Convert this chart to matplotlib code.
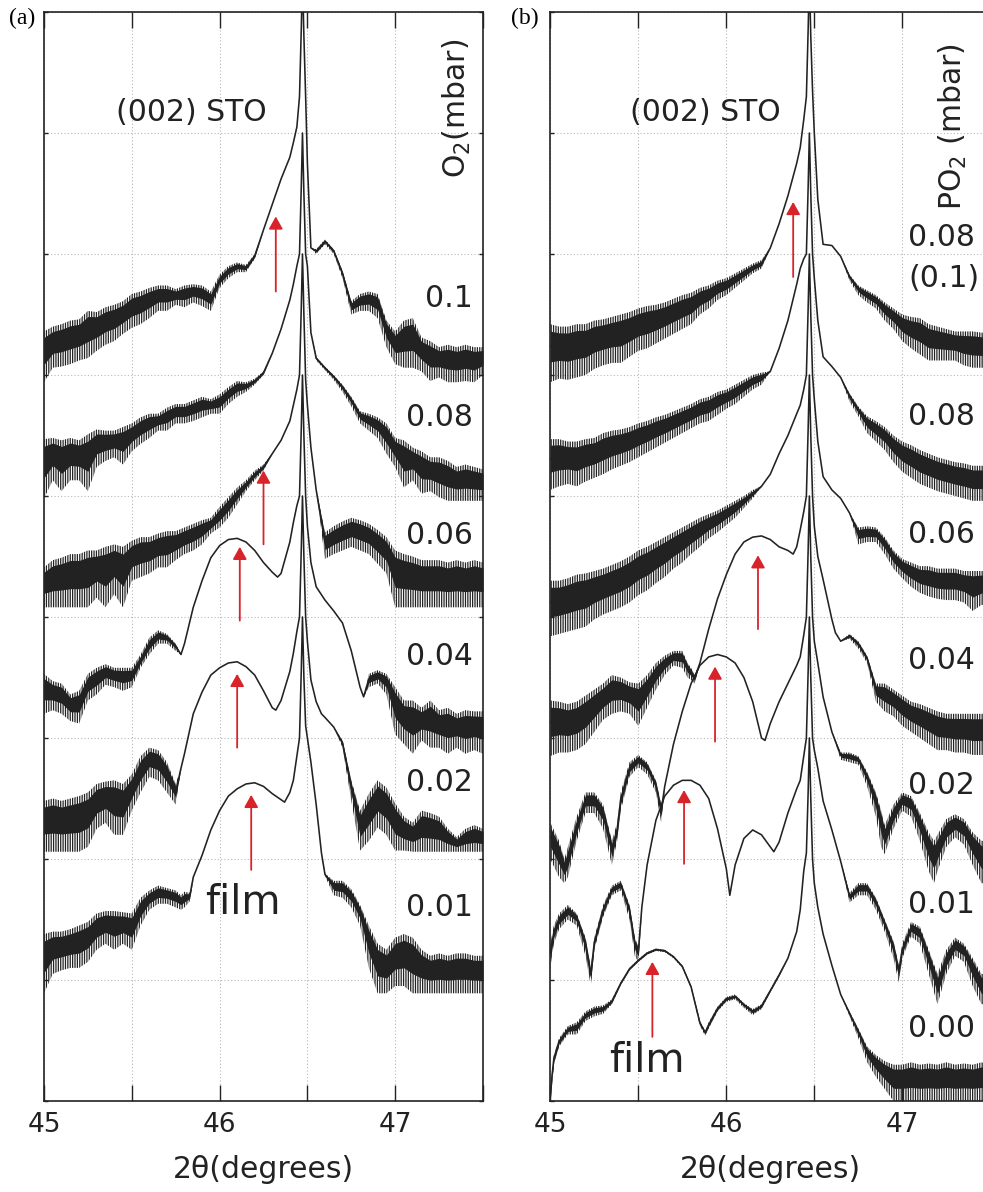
import numpy as np
import matplotlib
matplotlib.use("Agg")
import matplotlib.pyplot as plt

plt.rcParams['font.family'] = ['DejaVu Sans']
plt.rcParams['mathtext.fontset'] = 'dejavusans'
plt.rcParams['hatch.linewidth'] = 0.9

# ---------------- data (2theta in degrees, offset log-intensity in grid units) -------------
XG = [45.00, 45.05, 45.10, 45.15, 45.20, 45.25, 45.30, 45.35, 45.40, 45.45,
      45.50, 45.55, 45.60, 45.65, 45.70, 45.75, 45.80, 45.85, 45.90, 45.95,
      46.00, 46.05, 46.10, 46.15, 46.20, 46.25, 46.30, 46.35,
      46.40, 46.42, 46.44, 46.455, 46.465, 46.472, 46.48, 46.49, 46.50, 46.52,
      46.55, 46.60, 46.65, 46.70, 46.75, 46.80, 46.85, 46.90, 46.95, 47.00,
      47.05, 47.10, 47.15, 47.20, 47.25, 47.30, 47.35, 47.40, 47.45, 47.50]

# ---- panel (a): O2 pressure series ----
A010_hi = [6.36, 6.40, 6.42, 6.45, 6.46, 6.53, 6.52, 6.56, 6.58, 6.61,
           6.67, 6.69, 6.72, 6.74, 6.74, 6.71, 6.74, 6.75, 6.74, 6.69,
           6.83, 6.90, 6.93, 6.91, 7.00, 7.20, 7.41, 7.62,
           7.80, 7.92, 8.05, 8.30, 8.85, 9.30, 8.80, 8.30, 7.75, 7.05,
           7.04, 7.12, 7.04, 6.86, 6.61, 6.67, 6.69, 6.67, 6.45, 6.36,
           6.45, 6.47, 6.31, 6.28, 6.23, 6.25, 6.23, 6.25, 6.23, 6.23]
A010_lo = [5.94, 6.06, 6.07, 6.09, 6.12, 6.14, 6.20, 6.25, 6.28, 6.34,
           6.39, 6.42, 6.47, 6.53, 6.53, 6.58, 6.56, 6.60, 6.57, 6.53,
           6.72, 6.80, 6.85, 6.85, 6.96, 7.20, 7.41, 7.62,
           7.80, 7.92, 8.05, 8.30, 8.85, 9.30, 8.80, 8.30, 7.75, 7.05,
           7.00, 7.08, 7.00, 6.80, 6.50, 6.53, 6.53, 6.47, 6.23, 6.09,
           6.06, 6.06, 6.03, 5.95, 5.98, 5.94, 5.94, 5.95, 5.94, 6.00]

A008_hi = [5.47, 5.48, 5.46, 5.48, 5.46, 5.51, 5.55, 5.54, 5.54, 5.57,
           5.60, 5.65, 5.68, 5.68, 5.73, 5.76, 5.76, 5.79, 5.82, 5.80,
           5.84, 5.90, 5.95, 5.94, 5.97, 6.03, 6.18, 6.38,
           6.62, 6.75, 6.90, 7.00, 7.55, 8.00, 7.50, 7.00, 6.90, 6.35,
           6.15, 6.07, 6.00, 5.92, 5.82, 5.70, 5.68, 5.65, 5.60, 5.48,
           5.46, 5.40, 5.37, 5.32, 5.32, 5.29, 5.24, 5.26, 5.24, 5.22]
A008_lo = [4.98, 5.13, 5.04, 5.13, 5.13, 5.04, 5.24, 5.29, 5.32, 5.26,
           5.37, 5.43, 5.48, 5.54, 5.54, 5.60, 5.60, 5.62, 5.65, 5.68,
           5.68, 5.76, 5.82, 5.86, 5.92, 6.00, 6.18, 6.38,
           6.62, 6.75, 6.90, 7.00, 7.55, 8.00, 7.50, 7.00, 6.90, 6.35,
           6.12, 6.04, 5.96, 5.86, 5.74, 5.60, 5.54, 5.48, 5.35, 5.24,
           5.07, 5.13, 5.02, 5.04, 4.99, 4.96, 4.96, 4.96, 4.96, 4.96]

A006_hi = [4.41, 4.47, 4.49, 4.52, 4.52, 4.55, 4.55, 4.58, 4.60, 4.58,
           4.63, 4.66, 4.66, 4.69, 4.71, 4.71, 4.74, 4.77, 4.80, 4.82,
           4.91, 4.99, 5.07, 5.13, 5.21, 5.26, 5.35, 5.46,
           5.62, 5.75, 5.88, 6.00, 6.55, 7.00, 6.50, 5.96, 5.75, 5.40,
           5.05, 4.70, 4.75, 4.79, 4.82, 4.80, 4.77, 4.72, 4.66, 4.55,
           4.52, 4.50, 4.47, 4.47, 4.47, 4.45, 4.47, 4.45, 4.47, 4.45]
A006_lo = [4.08, 4.08, 4.08, 4.08, 4.08, 4.08, 4.16, 4.08, 4.19, 4.08,
           4.30, 4.33, 4.36, 4.41, 4.41, 4.47, 4.52, 4.55, 4.60, 4.69,
           4.74, 4.82, 4.93, 5.04, 5.13, 5.21, 5.35, 5.46,
           5.62, 5.75, 5.88, 6.00, 6.55, 7.00, 6.50, 5.96, 5.75, 5.40,
           5.05, 4.48, 4.52, 4.55, 4.58, 4.55, 4.52, 4.44, 4.36, 4.08,
           4.08, 4.08, 4.08, 4.08, 4.08, 4.08, 4.08, 4.08, 4.08, 4.08]

A004_x = [45.00, 45.05, 45.10, 45.15, 45.20, 45.25, 45.30, 45.35, 45.40, 45.45,
          45.50, 45.55, 45.60, 45.65, 45.70, 45.75, 45.78, 45.80, 45.85, 45.90,
          45.95, 46.00, 46.05, 46.10, 46.15, 46.20, 46.25, 46.30, 46.33, 46.35,
          46.40, 46.42, 46.44, 46.455, 46.465, 46.472, 46.48, 46.49, 46.50, 46.52,
          46.55, 46.60, 46.65, 46.70, 46.75, 46.80, 46.82, 46.85, 46.90, 46.95,
          47.00, 47.05, 47.10, 47.15, 47.20, 47.25, 47.30, 47.35, 47.40, 47.45,
          47.50]
A004_hi = [3.53, 3.47, 3.45, 3.36, 3.39, 3.53, 3.58, 3.61, 3.58, 3.58,
           3.58, 3.69, 3.83, 3.89, 3.86, 3.78, 3.69, 3.78, 4.08, 4.30,
           4.49, 4.59, 4.64, 4.65, 4.62, 4.55, 4.45, 4.37, 4.33, 4.36,
           4.62, 4.78, 4.92, 5.00, 5.55, 6.00, 5.50, 5.00, 4.75, 4.45,
           4.25, 4.14, 4.05, 3.95, 3.72, 3.42, 3.34, 3.53, 3.56, 3.53,
           3.42, 3.31, 3.31, 3.25, 3.31, 3.23, 3.25, 3.20, 3.23, 3.22,
           3.22]
A004_lo = [3.20, 3.23, 3.20, 3.14, 3.12, 3.31, 3.36, 3.44, 3.42, 3.39,
           3.42, 3.58, 3.69, 3.78, 3.78, 3.72, 3.69, 3.78, 4.08, 4.30,
           4.49, 4.59, 4.64, 4.65, 4.62, 4.55, 4.45, 4.37, 4.33, 4.36,
           4.62, 4.78, 4.92, 5.00, 5.55, 6.00, 5.50, 5.00, 4.75, 4.45,
           4.25, 4.14, 4.05, 3.95, 3.72, 3.42, 3.34, 3.42, 3.45, 3.36,
           3.03, 2.95, 2.87, 2.98, 2.92, 2.92, 2.87, 2.92, 2.87, 2.90,
           2.87]

A002_x = [45.00, 45.05, 45.10, 45.15, 45.20, 45.25, 45.30, 45.35, 45.40, 45.45,
          45.50, 45.55, 45.60, 45.65, 45.70, 45.75, 45.78, 45.80, 45.85, 45.90,
          45.95, 46.00, 46.05, 46.10, 46.15, 46.20, 46.25, 46.30, 46.32, 46.35,
          46.40, 46.42, 46.44, 46.455, 46.465, 46.472, 46.48, 46.49, 46.50, 46.52,
          46.55, 46.58, 46.60, 46.65, 46.70, 46.75, 46.80, 46.85, 46.90, 46.95,
          47.00, 47.05, 47.10, 47.15, 47.20, 47.25, 47.30, 47.35, 47.40, 47.45,
          47.50]
A002_hi = [2.48, 2.50, 2.48, 2.50, 2.52, 2.55, 2.62, 2.64, 2.65, 2.62,
           2.70, 2.85, 2.92, 2.90, 2.80, 2.62, 2.75, 2.87, 3.20, 3.38,
           3.52, 3.58, 3.62, 3.63, 3.59, 3.52, 3.39, 3.25, 3.23, 3.31,
           3.55, 3.70, 3.88, 4.00, 4.55, 5.00, 4.50, 4.00, 3.80, 3.48,
           3.30, 3.20, 3.17, 3.09, 2.98, 2.65, 2.40, 2.54, 2.65, 2.59,
           2.46, 2.35, 2.30, 2.40, 2.38, 2.35, 2.25, 2.18, 2.25, 2.28,
           2.25]
A002_lo = [2.06, 2.06, 2.06, 2.06, 2.06, 2.10, 2.25, 2.30, 2.20, 2.20,
           2.40, 2.55, 2.68, 2.65, 2.55, 2.45, 2.75, 2.87, 3.20, 3.38,
           3.52, 3.58, 3.62, 3.63, 3.59, 3.52, 3.39, 3.25, 3.23, 3.31,
           3.55, 3.70, 3.88, 4.00, 4.55, 5.00, 4.50, 4.00, 3.80, 3.48,
           3.30, 3.20, 3.17, 3.09, 2.92, 2.48, 2.07, 2.15, 2.26, 2.20,
           2.07, 2.07, 2.06, 2.06, 2.06, 2.06, 2.06, 2.06, 2.06, 2.06,
           2.06]

A001_x = [45.00, 45.05, 45.10, 45.15, 45.20, 45.25, 45.30, 45.35, 45.40, 45.45,
          45.50, 45.55, 45.60, 45.65, 45.70, 45.75, 45.78, 45.80, 45.83, 45.85,
          45.90, 45.95, 46.00, 46.05, 46.10, 46.15, 46.20, 46.25, 46.30, 46.35,
          46.37, 46.40, 46.42, 46.44, 46.455, 46.465, 46.472, 46.48, 46.49, 46.50,
          46.52, 46.55, 46.58, 46.60, 46.65, 46.70, 46.75, 46.80, 46.85, 46.90,
          46.95, 47.00, 47.05, 47.10, 47.15, 47.20, 47.25, 47.30, 47.35, 47.40,
          47.45, 47.50]
A001_hi = [1.38, 1.40, 1.40, 1.42, 1.45, 1.48, 1.55, 1.57, 1.57, 1.56,
           1.55, 1.68, 1.74, 1.78, 1.76, 1.74, 1.70, 1.73, 1.72, 1.85,
           2.03, 2.24, 2.40, 2.52, 2.58, 2.62, 2.63, 2.60, 2.54, 2.49,
           2.47, 2.55, 2.65, 2.85, 3.00, 3.55, 4.00, 3.50, 3.10, 3.00,
           2.80, 2.45, 2.05, 1.88, 1.82, 1.82, 1.75, 1.62, 1.45, 1.30,
           1.25, 1.35, 1.38, 1.35, 1.25, 1.20, 1.22, 1.20, 1.22, 1.22,
           1.20, 1.20]
A001_lo = [0.89, 1.05, 1.08, 1.10, 1.10, 1.15, 1.25, 1.30, 1.25, 1.30,
           1.25, 1.45, 1.58, 1.63, 1.63, 1.60, 1.58, 1.60, 1.65, 1.85,
           2.03, 2.24, 2.40, 2.52, 2.58, 2.62, 2.63, 2.60, 2.54, 2.49,
           2.47, 2.55, 2.65, 2.85, 3.00, 3.55, 4.00, 3.50, 3.10, 3.00,
           2.80, 2.45, 2.05, 1.86, 1.70, 1.68, 1.60, 1.45, 1.10, 0.89,
           0.89, 0.95, 0.95, 0.89, 0.89, 0.89, 0.89, 0.89, 0.89, 0.89,
           0.89, 0.89]

# ---- panel (b): PO2 series ----
B010_hi = [6.42, 6.40, 6.40, 6.42, 6.42, 6.45, 6.46, 6.48, 6.50, 6.52,
           6.55, 6.57, 6.58, 6.60, 6.63, 6.66, 6.68, 6.72, 6.74, 6.78,
           6.80, 6.84, 6.88, 6.92, 6.95, 7.05, 7.25, 7.48,
           7.75, 7.88, 8.11, 8.30, 8.85, 9.30, 8.80, 8.35, 8.00, 7.45,
           7.08, 7.07, 6.98, 6.83, 6.74, 6.70, 6.66, 6.60, 6.55, 6.50,
           6.48, 6.47, 6.42, 6.40, 6.38, 6.36, 6.36, 6.36, 6.35, 6.35]
B010_lo = [5.94, 5.97, 5.96, 5.98, 6.00, 6.05, 6.08, 6.10, 6.10, 6.15,
           6.20, 6.22, 6.26, 6.30, 6.34, 6.38, 6.42, 6.50, 6.55, 6.62,
           6.66, 6.72, 6.78, 6.84, 6.88, 7.05, 7.25, 7.48,
           7.75, 7.88, 8.11, 8.30, 8.85, 9.30, 8.80, 8.35, 8.00, 7.45,
           7.08, 7.07, 6.98, 6.78, 6.66, 6.60, 6.55, 6.45, 6.38, 6.28,
           6.22, 6.17, 6.12, 6.12, 6.12, 6.12, 6.08, 6.06, 6.06, 6.06]

B008_hi = [5.47, 5.47, 5.45, 5.45, 5.47, 5.48, 5.52, 5.54, 5.55, 5.57,
           5.60, 5.62, 5.65, 5.67, 5.70, 5.73, 5.76, 5.80, 5.82, 5.86,
           5.88, 5.92, 5.96, 6.00, 6.02, 6.03, 6.22, 6.45,
           6.75, 6.88, 6.96, 7.00, 7.55, 8.00, 7.50, 7.00, 6.80, 6.45,
           6.15, 6.07, 5.98, 5.85, 5.74, 5.66, 5.62, 5.57, 5.50, 5.45,
           5.42, 5.38, 5.35, 5.32, 5.30, 5.28, 5.27, 5.25, 5.25, 5.25]
B008_lo = [5.05, 5.08, 5.10, 5.08, 5.12, 5.15, 5.18, 5.22, 5.25, 5.28,
           5.32, 5.36, 5.40, 5.44, 5.48, 5.52, 5.56, 5.60, 5.62, 5.67,
           5.72, 5.76, 5.82, 5.88, 5.92, 6.03, 6.22, 6.45,
           6.75, 6.88, 6.96, 7.00, 7.55, 8.00, 7.50, 7.00, 6.80, 6.45,
           6.15, 6.07, 5.98, 5.78, 5.66, 5.52, 5.45, 5.38, 5.28, 5.20,
           5.15, 5.10, 5.07, 5.04, 5.02, 5.00, 4.98, 4.96, 4.96, 4.96]

B006_hi = [4.30, 4.30, 4.32, 4.35, 4.36, 4.38, 4.40, 4.43, 4.46, 4.50,
           4.55, 4.58, 4.62, 4.66, 4.70, 4.74, 4.78, 4.82, 4.85, 4.88,
           4.92, 4.96, 5.00, 5.05, 5.08, 5.18, 5.35, 5.50,
           5.68, 5.75, 5.88, 6.00, 6.55, 7.00, 6.50, 6.00, 5.80, 5.45,
           5.16, 5.05, 4.98, 4.86, 4.74, 4.75, 4.74, 4.66, 4.55, 4.48,
           4.45, 4.42, 4.42, 4.40, 4.40, 4.40, 4.38, 4.38, 4.38, 4.38]
B006_lo = [3.84, 3.86, 3.88, 3.90, 3.92, 3.98, 4.02, 4.05, 4.08, 4.12,
           4.18, 4.22, 4.28, 4.33, 4.40, 4.45, 4.52, 4.58, 4.65, 4.70,
           4.76, 4.82, 4.90, 4.98, 5.08, 5.18, 5.35, 5.50,
           5.68, 5.75, 5.88, 6.00, 6.55, 7.00, 6.50, 6.00, 5.80, 5.45,
           5.16, 5.05, 4.98, 4.86, 4.60, 4.62, 4.62, 4.52, 4.40, 4.32,
           4.25, 4.20, 4.17, 4.15, 4.14, 4.14, 4.12, 4.05, 4.10, 4.10]

B004_x = [45.00, 45.05, 45.10, 45.15, 45.20, 45.25, 45.30, 45.35, 45.40, 45.45,
          45.50, 45.55, 45.60, 45.65, 45.70, 45.75, 45.78, 45.80, 45.82, 45.85,
          45.90, 45.95, 46.00, 46.05, 46.10, 46.15, 46.20, 46.25, 46.30, 46.35,
          46.38, 46.40, 46.42, 46.44, 46.455, 46.465, 46.472, 46.48, 46.49, 46.50,
          46.52, 46.55, 46.60, 46.62, 46.65, 46.70, 46.75, 46.80, 46.85, 46.90,
          46.95, 47.00, 47.05, 47.10, 47.15, 47.20, 47.25, 47.30, 47.35, 47.40,
          47.45, 47.50]
B004_hi = [3.31, 3.30, 3.28, 3.30, 3.35, 3.40, 3.45, 3.52, 3.50, 3.46,
           3.45, 3.52, 3.62, 3.68, 3.72, 3.72, 3.62, 3.58, 3.52, 3.62,
           3.90, 4.15, 4.35, 4.52, 4.62, 4.66, 4.67, 4.64, 4.58, 4.55,
           4.52, 4.58, 4.72, 4.87, 5.00, 5.55, 6.00, 5.50, 5.00, 4.75,
           4.50, 4.31, 3.98, 3.87, 3.80, 3.86, 3.80, 3.68, 3.45, 3.45,
           3.40, 3.35, 3.30, 3.28, 3.25, 3.22, 3.20, 3.20, 3.20, 3.20,
           3.20, 3.20]
B004_lo = [2.85, 2.88, 2.88, 2.90, 2.95, 3.05, 3.15, 3.20, 3.22, 3.20,
           3.10, 3.25, 3.40, 3.52, 3.60, 3.58, 3.50, 3.48, 3.45, 3.62,
           3.90, 4.15, 4.35, 4.52, 4.62, 4.66, 4.67, 4.64, 4.58, 4.55,
           4.52, 4.58, 4.72, 4.87, 5.00, 5.55, 6.00, 5.50, 5.00, 4.75,
           4.50, 4.31, 3.98, 3.87, 3.80, 3.82, 3.74, 3.62, 3.30, 3.22,
           3.18, 3.10, 3.05, 3.00, 2.95, 2.90, 2.90, 2.88, 2.88, 2.86,
           2.86, 2.86]

B002_x = [45.00, 45.05, 45.08, 45.10, 45.15, 45.20, 45.25, 45.30, 45.35, 45.38,
          45.40, 45.45, 45.50, 45.55, 45.60, 45.63, 45.65, 45.70, 45.75, 45.80,
          45.85, 45.90, 45.95, 46.00, 46.05, 46.10, 46.15, 46.20, 46.22, 46.25,
          46.30, 46.35, 46.40, 46.42, 46.44, 46.455, 46.465, 46.472, 46.48, 46.49,
          46.50, 46.52, 46.55, 46.60, 46.65, 46.70, 46.75, 46.80, 46.85, 46.88,
          46.90, 46.95, 47.00, 47.05, 47.10, 47.15, 47.18, 47.20, 47.25, 47.30,
          47.35, 47.40, 47.45, 47.50]
B002_hi = [2.30, 2.15, 2.00, 2.10, 2.35, 2.55, 2.55, 2.45, 2.15, 2.30,
           2.55, 2.80, 2.86, 2.80, 2.65, 2.45, 2.60, 2.95, 3.22, 3.45,
           3.60, 3.67, 3.69, 3.67, 3.62, 3.50, 3.30, 3.00, 2.98, 3.12,
           3.30, 3.45, 3.60, 3.67, 3.85, 4.00, 4.55, 5.00, 4.50, 4.00,
           3.80, 3.62, 3.34, 3.05, 2.88, 2.88, 2.85, 2.72, 2.55, 2.40,
           2.28, 2.45, 2.55, 2.52, 2.38, 2.22, 2.15, 2.20, 2.33, 2.37,
           2.33, 2.22, 2.15, 2.15]
B002_lo = [2.00, 1.85, 1.80, 1.85, 2.15, 2.38, 2.38, 2.25, 1.95, 2.15,
           2.40, 2.68, 2.76, 2.70, 2.55, 2.30, 2.60, 2.95, 3.22, 3.45,
           3.60, 3.67, 3.69, 3.67, 3.62, 3.50, 3.30, 3.00, 2.98, 3.12,
           3.30, 3.45, 3.60, 3.67, 3.85, 4.00, 4.55, 5.00, 4.50, 4.00,
           3.80, 3.62, 3.34, 3.05, 2.82, 2.80, 2.78, 2.60, 2.35, 2.10,
           2.04, 2.25, 2.40, 2.35, 2.15, 1.90, 1.80, 1.90, 2.10, 2.18,
           2.12, 1.95, 1.80, 1.80]

B001_x = [45.00, 45.02, 45.05, 45.10, 45.15, 45.20, 45.23, 45.25, 45.30, 45.35,
          45.40, 45.45, 45.48, 45.50, 45.52, 45.55, 45.60, 45.65, 45.70, 45.75,
          45.80, 45.85, 45.90, 45.95, 46.00, 46.02, 46.05, 46.10, 46.15, 46.20,
          46.25, 46.27, 46.30, 46.35, 46.40, 46.42, 46.44, 46.455, 46.465, 46.472,
          46.48, 46.49, 46.50, 46.52, 46.55, 46.60, 46.65, 46.70, 46.75, 46.80,
          46.85, 46.90, 46.95, 46.98, 47.00, 47.05, 47.10, 47.15, 47.20, 47.25,
          47.30, 47.35, 47.40, 47.45, 47.50]
B001_hi = [1.30, 1.45, 1.55, 1.62, 1.55, 1.35, 1.10, 1.35, 1.62, 1.78,
           1.82, 1.62, 1.35, 1.28, 1.60, 1.95, 2.32, 2.52, 2.61, 2.65,
           2.65, 2.61, 2.50, 2.25, 1.92, 1.70, 1.95, 2.17, 2.24, 2.20,
           2.10, 2.06, 2.14, 2.38, 2.58, 2.65, 2.85, 3.00, 3.55, 4.00,
           3.50, 3.00, 2.90, 2.75, 2.48, 2.24, 1.98, 1.72, 1.80, 1.80,
           1.68, 1.50, 1.32, 1.12, 1.30, 1.48, 1.44, 1.25, 1.05, 1.25,
           1.35, 1.30, 1.18, 1.05, 1.05]
B001_lo = [1.10, 1.30, 1.42, 1.50, 1.45, 1.20, 0.95, 1.25, 1.52, 1.70,
           1.74, 1.50, 1.20, 1.15, 1.60, 1.95, 2.32, 2.52, 2.61, 2.65,
           2.65, 2.61, 2.50, 2.25, 1.92, 1.70, 1.95, 2.17, 2.24, 2.20,
           2.10, 2.06, 2.14, 2.38, 2.58, 2.65, 2.85, 3.00, 3.55, 4.00,
           3.50, 3.00, 2.90, 2.75, 2.48, 2.24, 1.98, 1.64, 1.70, 1.70,
           1.58, 1.40, 1.18, 0.98, 1.18, 1.36, 1.30, 1.05, 0.80, 1.05,
           1.20, 1.15, 0.95, 0.80, 0.80]

B000_x = [45.00, 45.01, 45.02, 45.05, 45.10, 45.15, 45.20, 45.25, 45.30, 45.35,
          45.40, 45.45, 45.50, 45.55, 45.60, 45.65, 45.70, 45.75, 45.80, 45.85,
          45.88, 45.90, 45.95, 46.00, 46.05, 46.10, 46.15, 46.20, 46.25, 46.30,
          46.35, 46.40, 46.42, 46.44, 46.455, 46.465, 46.472, 46.48, 46.49, 46.50,
          46.52, 46.55, 46.60, 46.65, 46.70, 46.75, 46.80, 46.85, 46.90, 46.95,
          47.00, 47.05, 47.10, 47.15, 47.20, 47.25, 47.30, 47.35, 47.40, 47.45,
          47.50]
B000_hi = [0.05, 0.25, 0.38, 0.52, 0.62, 0.65, 0.74, 0.78, 0.79, 0.84,
           0.98, 1.10, 1.17, 1.23, 1.26, 1.25, 1.20, 1.12, 0.95, 0.66,
           0.58, 0.65, 0.78, 0.86, 0.88, 0.81, 0.76, 0.80, 0.92, 1.05,
           1.18, 1.40, 1.58, 1.90, 2.05, 2.55, 3.00, 2.50, 2.00, 1.80,
           1.60, 1.38, 1.12, 0.88, 0.74, 0.60, 0.45, 0.38, 0.33, 0.30,
           0.30, 0.32, 0.30, 0.31, 0.30, 0.32, 0.30, 0.31, 0.30, 0.32,
           0.30]
B000_lo = [0.00, 0.15, 0.30, 0.45, 0.55, 0.55, 0.66, 0.70, 0.72, 0.80,
           0.96, 1.08, 1.15, 1.21, 1.24, 1.23, 1.18, 1.10, 0.93, 0.62,
           0.54, 0.60, 0.74, 0.82, 0.84, 0.77, 0.71, 0.76, 0.90, 1.03,
           1.18, 1.40, 1.58, 1.90, 2.05, 2.55, 3.00, 2.50, 2.00, 1.80,
           1.60, 1.38, 1.12, 0.88, 0.70, 0.52, 0.32, 0.20, 0.10, 0.00,
           0.00, 0.00, 0.00, 0.00, 0.00, 0.00, 0.00, 0.00, 0.00, 0.00,
           0.00]

# labels next to curves
A_labels = ["0.1", "0.08", "0.06", "0.04", "0.02", "0.01"]
A_label_y = [6.63, 5.65, 4.67, 3.67, 2.63, 1.60]
B_labels = ["0.08", "(0.1)", "0.08", "0.06", "0.04", "0.02", "0.01", "0.00"]
B_label_y = [7.14, 6.80, 5.66, 4.68, 3.64, 2.61, 1.62, 0.60]

# red arrows marking film peaks
A_arrow_x = [46.32, 46.25, 46.115, 46.10, 46.18]
A_arrow_y0 = [6.69, 4.60, 3.97, 2.92, 1.91]
A_arrow_y1 = [7.31, 5.21, 4.58, 3.53, 2.53]
B_arrow_x = [46.38, 46.18, 45.936, 45.76, 45.58]
B_arrow_y0 = [6.81, 3.90, 2.97, 1.96, 0.53]
B_arrow_y1 = [7.43, 4.51, 3.59, 2.57, 1.15]

xticks = [45.0, 45.5, 46.0, 46.5, 47.0, 47.5]
xticklabels = ["45", "", "46", "", "47", ""]

# ---------------- figure ----------------
W, H = 983, 1192
fig = plt.figure(figsize=(W / 100, H / 100), dpi=100)
axA = fig.add_axes([44 / W, 91 / H, 439 / W, 1089 / H])
axB = fig.add_axes([550.3 / W, 91 / H, 440 / W, 1089 / H])

LINE = '#222222'
RED = '#d8232a'
TXT = '#222222'

curvesA = [(XG, A010_hi, A010_lo), (XG, A008_hi, A008_lo), (XG, A006_hi, A006_lo),
           (A004_x, A004_hi, A004_lo), (A002_x, A002_hi, A002_lo), (A001_x, A001_hi, A001_lo)]
curvesB = [(XG, B010_hi, B010_lo), (XG, B008_hi, B008_lo), (XG, B006_hi, B006_lo),
           (B004_x, B004_hi, B004_lo), (B002_x, B002_hi, B002_lo), (B001_x, B001_hi, B001_lo),
           (B000_x, B000_hi, B000_lo)]


def style_axes(ax):
    ax.set_xlim(45, 47.5)
    ax.set_ylim(0, 9)
    ax.set_xticks(xticks)
    ax.set_xticklabels(xticklabels)
    ax.set_yticks(range(0, 10))
    ax.set_yticklabels([])
    ax.tick_params(axis='x', direction='in', length=11.5, width=1.0, top=True,
                   bottom=True, labelsize=19, pad=8, colors=TXT)
    ax.tick_params(axis='y', direction='in', length=3, width=1.0, left=True,
                   right=True, colors=TXT)
    ax.grid(True, linestyle=(0, (1, 2)), color='#b8b8b8', linewidth=0.8)
    ax.set_axisbelow(True)
    for s in ax.spines.values():
        s.set_linewidth(1.2)
        s.set_color(TXT)
    ax.set_xlabel('2θ(degrees)', fontsize=21.5, labelpad=12, color=TXT)


def draw_curves(ax, curves):
    for x, hi, lo in curves:
        x = np.asarray(x)
        hi = np.asarray(hi)
        lo = np.asarray(lo)
        span = hi - lo
        core_lo = lo + 0.35 * span
        core_hi = hi - 0.12 * span
        # full extent of the noisy trace: dense vertical strokes
        ax.fill_between(x, lo, hi, facecolor='none', edgecolor=LINE, hatch='|||||||',
                        linewidth=0, zorder=3)
        # dense core of the noisy trace
        ax.fill_between(x, core_lo, core_hi, color=LINE, linewidth=0, zorder=3)
        ax.plot(x, (core_hi + core_lo) / 2, color=LINE, linewidth=1.15, zorder=4)


def draw_arrows(ax, xs, y0s, y1s):
    for x, y0, y1 in zip(xs, y0s, y1s):
        ax.annotate('', xy=(x, y1), xytext=(x, y0),
                    arrowprops=dict(arrowstyle='-|>,head_length=0.5,head_width=0.28',
                                    color=RED, lw=1.3, mutation_scale=15,
                                    shrinkA=0, shrinkB=0), zorder=5)


for ax, curves in ((axA, curvesA), (axB, curvesB)):
    style_axes(ax)
    draw_curves(ax, curves)

draw_arrows(axA, A_arrow_x, A_arrow_y0, A_arrow_y1)
draw_arrows(axB, B_arrow_x, B_arrow_y0, B_arrow_y1)

axA.text(45.84, 8.17, '(002) STO', fontsize=21.5, ha='center', va='center', color=TXT)
axB.text(45.88, 8.17, '(002) STO', fontsize=21.5, ha='center', va='center', color=TXT)
axA.text(47.35, 8.2, r'O$_\mathregular{2}$(mbar)', fontsize=21.5, rotation=90,
         ha='center', va='center', color=TXT)
axB.text(47.29, 8.05, r'PO$_\mathregular{2}$ (mbar)', fontsize=21.5, rotation=90,
         ha='center', va='center', color=TXT)
for lab, y in zip(A_labels, A_label_y):
    axA.text(47.44, y, lab, fontsize=21.5, ha='right', va='center', color=TXT)
for lab, y in zip(B_labels, B_label_y):
    axB.text(47.035, y, lab, fontsize=21.5, ha='left', va='center', color=TXT)
axA.text(46.135, 1.64, 'film', fontsize=29, ha='center', va='center', color=TXT)
axB.text(45.55, 0.33, 'film', fontsize=29, ha='center', va='center', color=TXT)

fig.text(22 / W, 1 - 18 / H, '(a)', fontsize=17, family='Liberation Serif',
         ha='center', va='center')
fig.text(525 / W, 1 - 18 / H, '(b)', fontsize=17, family='Liberation Serif',
         ha='center', va='center')

fig.savefig('out.png', dpi=100)
